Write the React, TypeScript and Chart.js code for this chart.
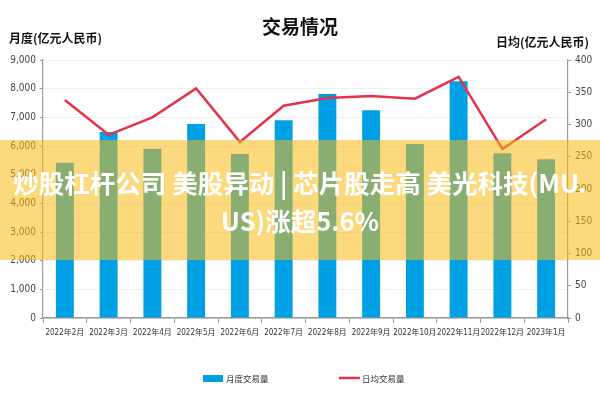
import React, { useEffect, useRef } from "react";
import { Chart, registerables } from "chart.js";

Chart.register(...registerables);

const categories = [
  "2022年2月", "2022年3月", "2022年4月", "2022年5月", "2022年6月", "2022年7月",
  "2022年8月", "2022年9月", "2022年10月", "2022年11月", "2022年12月", "2023年1月",
];
const monthlyVolume = [5420, 6490, 5900, 6770, 5720, 6900, 7810, 7250, 6070, 8260, 5745, 5540];
const dailyAverage = [338, 284, 311, 356, 273, 329, 341, 344, 340, 374, 262, 308];
const seriesNames = ["月度交易量", "日均交易量"];
const chartTitle = "交易情况";
const leftAxisTitle = "月度(亿元人民币)";
const rightAxisTitle = "日均(亿元人民币)";
const overlayLine1 = "炒股杠杆公司 美股异动 | 芯片股走高 美光科技(MU.";
const overlayLine2 = "US)涨超5.6%";

const BLUE = "#00A0E4";
const RED = "#E5334B";
const CJK = "'Noto Sans CJK SC', 'Noto Sans', sans-serif";
const NARROW = "'DejaVu Sans Condensed', 'Liberation Sans Narrow', 'Noto Sans CJK SC', sans-serif";

const decorPlugin = {
  id: "decor",
  afterDraw(chart: any) {
    const ctx = chart.ctx;
    ctx.save();
    ctx.fillStyle = "#111";
    ctx.textBaseline = "middle";
    ctx.font = `bold 19px ${CJK}`;
    ctx.textAlign = "center";
    ctx.fillText(chartTitle, 300, 27);
    ctx.font = `bold 12px ${CJK}`;
    ctx.textAlign = "left";
    ctx.fillText(leftAxisTitle, 9, 38);
    ctx.textAlign = "right";
    ctx.fillText(rightAxisTitle, 589, 42);

    // legend
    const ds = chart.data.datasets;
    const bar = ds.find((d: any) => d.type === "bar");
    const line = ds.find((d: any) => d.type === "line");
    ctx.font = `8.5px ${CJK}`;
    ctx.textAlign = "left";
    ctx.fillStyle = bar.backgroundColor;
    ctx.fillRect(203, 375, 20, 7);
    ctx.fillStyle = "#333";
    ctx.fillText(bar.label, 226, 379);
    ctx.strokeStyle = line.borderColor;
    ctx.lineWidth = 2.5;
    ctx.beginPath();
    ctx.moveTo(339, 378);
    ctx.lineTo(360, 378);
    ctx.stroke();
    ctx.fillStyle = "#333";
    ctx.fillText(line.label, 362, 379);
    ctx.restore();
  },
};

export default function App() {
  const ref = useRef<HTMLCanvasElement | null>(null);

  useEffect(() => {
    if (!ref.current) return;
    const chart = new Chart(ref.current, {
      data: {
        labels: categories,
        datasets: [
          {
            type: "line",
            label: seriesNames[1],
            data: dailyAverage,
            yAxisID: "y1",
            borderColor: RED,
            backgroundColor: RED,
            borderWidth: 2.5,
            pointRadius: 0,
            tension: 0,
            order: 0,
          },
          {
            type: "bar",
            label: seriesNames[0],
            data: monthlyVolume,
            yAxisID: "y",
            backgroundColor: BLUE,
            barPercentage: 0.82,
            categoryPercentage: 0.5,
            order: 1,
          },
        ],
      } as any,
      options: {
        animation: false,
        responsive: false,
        maintainAspectRatio: false,
        layout: { padding: { top: 60, bottom: 0, left: 0, right: 0 } },
        plugins: {
          legend: { display: false },
          title: { display: false },
          tooltip: { enabled: false },
        },
        scales: {
          x: {
            offset: true,
            grid: {
              offset: true,
              drawOnChartArea: false,
              drawTicks: true,
              tickLength: 5,
              color: "#999",
            },
            border: { color: "#999", width: 1.5 },
            ticks: {
              autoSkip: false,
              maxRotation: 0,
              minRotation: 0,
              color: "#333",
              font: { family: NARROW, size: 8 },
              padding: 5,
            },
            afterFit(scale: any) {
              scale.height = 82;
            },
          },
          y: {
            position: "left",
            min: 0,
            max: 9000,
            ticks: {
              stepSize: 1000,
              color: "#444",
              font: { family: NARROW, size: 10 },
              padding: 4,
            },
            grid: { color: "#f0f0f0", tickLength: 3, tickColor: "#999" },
            border: { color: "#999", width: 1.2 },
            afterFit(scale: any) {
              scale.width = 43;
            },
          },
          y1: {
            position: "right",
            min: 0,
            max: 400,
            ticks: {
              stepSize: 50,
              color: "#444",
              font: { family: NARROW, size: 10 },
              padding: 4,
            },
            grid: { drawOnChartArea: false, tickLength: 3, color: "#999" },
            border: { color: "#999", width: 1.2 },
            afterFit(scale: any) {
              scale.width = 32;
            },
          },
        },
      } as any,
      plugins: [decorPlugin],
    });
    return () => chart.destroy();
  }, []);

  return (
    <div style={{ position: "fixed", left: 0, top: 0, width: 600, height: 400, background: "#fff" }}>
      <canvas ref={ref} width={600} height={400} style={{ width: 600, height: 400, display: "block" }} />
      <div
        style={{
          position: "absolute",
          left: 0,
          top: 140,
          width: 600,
          height: 120,
          background: "rgba(251, 185, 20, 0.55)",
          color: "#fff",
          fontFamily: CJK,
          fontWeight: 700,
          fontSize: 25.5,
          lineHeight: "38px",
          textAlign: "center",
          whiteSpace: "nowrap",
          boxSizing: "border-box",
          padding: "23px 0 0 0",
        }}
      >
        <div>{overlayLine1}</div>
        <div>{overlayLine2}</div>
      </div>
    </div>
  );
}
